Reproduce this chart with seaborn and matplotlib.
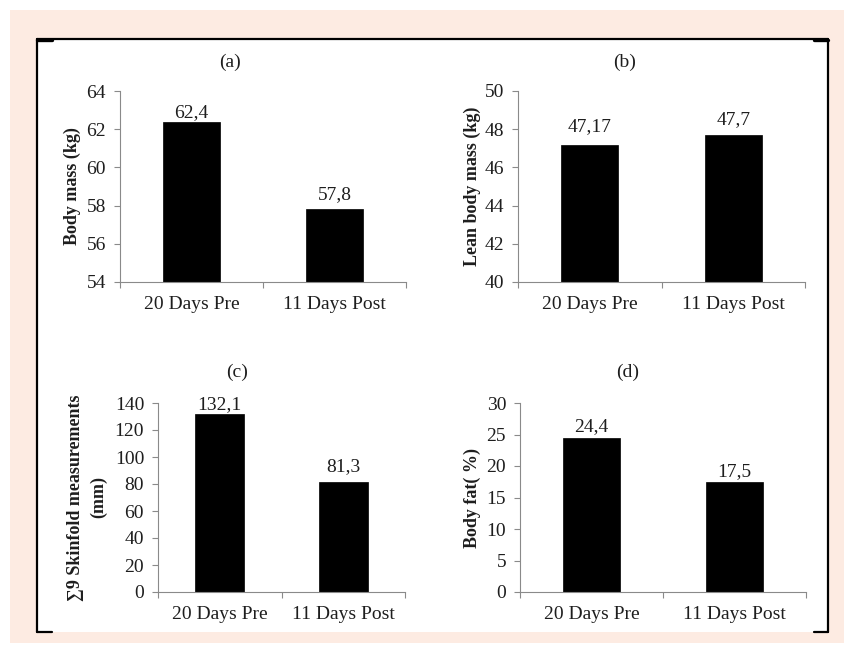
import matplotlib
matplotlib.use('Agg')
import matplotlib.pyplot as plt
from matplotlib.patches import Rectangle
from matplotlib.lines import Line2D
import seaborn as sns

# data
groups = ['20 Days Pre', '11 Days Post']
body_mass = [62.4, 57.8]
lean_mass = [47.17, 47.7]
skinfolds = [132.1, 81.3]
body_fat = [24.4, 17.5]

sns.set_style('white')
plt.rcParams['font.family'] = ['Liberation Serif', 'DejaVu Serif']

W, H = 844, 651
TXT = '#1e1e1e'
AX = '#8a8a8a'
PEACH = '#fdebe2'

fig = plt.figure(figsize=(W / 100, H / 100), dpi=100)
fig.patch.set_facecolor('white')


def px_rect(x0, y0, x1, y1):
    # pixel box (top-left origin) -> figure fraction rect
    return [x0 / W, 1 - y1 / H, (x1 - x0) / W, (y1 - y0) / H]


# background frame
fig.patches.append(Rectangle((10 / W, 1 - 643 / H), 1 - 10 / W, (643 - 10) / H,
                             transform=fig.transFigure, facecolor=PEACH,
                             edgecolor='none', zorder=-3))
fig.patches.append(Rectangle((37 / W, 1 - 632 / H), (828 - 37) / W, (632 - 39) / H,
                             transform=fig.transFigure, facecolor='white',
                             edgecolor='none', zorder=-2))


def fline(xs, ys, lw=1.6):
    fig.lines.append(Line2D([x / W for x in xs], [1 - y / H for y in ys],
                            transform=fig.transFigure, color='black', lw=lw))


fline([37, 828], [39, 39])
fline([37, 37], [39, 632])
fline([828, 828], [39, 632])
fline([37, 52], [632, 632])
fline([814, 828], [632, 632])
fline([37, 52], [40, 40], lw=2.4)
fline([814, 828], [40, 40], lw=2.4)

panels = [
    dict(box=(120, 91, 406, 282), vals=body_mass, ylim=(54, 64), step=2,
         title='(a)', tpos=(0.385, 1.152), ylabel='Body mass (kg)', lx=-0.168,
         gaps=[4, 10]),
    dict(box=(518, 91, 805, 282), vals=lean_mass, ylim=(40, 50), step=2,
         title='(b)', tpos=(0.373, 1.152), ylabel='Lean body mass (kg)', lx=-0.160,
         gaps=[14, 11]),
    dict(box=(158, 403, 405, 592), vals=skinfolds, ylim=(0, 140), step=20,
         title='(c)', tpos=(0.32, 1.164),
         ylabel='\u22119 Skinfold measurements\n(mm)', lx=-0.287, gaps=[5, 11]),
    dict(box=(520, 403, 806, 592), vals=body_fat, ylim=(0, 30), step=5,
         title='(d)', tpos=(0.378, 1.164), ylabel='Body fat( %)', lx=-0.168,
         gaps=[7, 6]),
]

for p in panels:
    ax = fig.add_axes(px_rect(*p['box']))
    ax.set_facecolor('none')
    sns.barplot(x=groups, y=p['vals'], color='black', width=0.4,
                edgecolor='black', linewidth=0.5, saturation=1, ax=ax)
    lo, hi = p['ylim']
    ax.set_ylim(lo, hi)
    ax.set_xlim(-0.5, 1.5)
    ax.set_yticks(range(lo, hi + 1, p['step']))
    ax.set_xticks([-0.5, 0.5, 1.5], minor=True)
    ax.tick_params(axis='x', which='major', length=0, pad=10, labelsize=14,
                   labelcolor=TXT)
    ax.tick_params(axis='x', which='minor', length=4, width=0.8, color=AX,
                   direction='out', bottom=True)
    ax.tick_params(axis='y', length=4, width=0.8, color=AX, direction='out',
                   left=True, pad=6, labelsize=14, labelcolor=TXT)
    for s in ['top', 'right']:
        ax.spines[s].set_visible(False)
    for s in ['left', 'bottom']:
        ax.spines[s].set_color(AX)
        ax.spines[s].set_linewidth(0.8)
    ax.set_xlabel('')
    ax.set_ylabel(p['ylabel'], fontsize=13, fontweight='bold', color=TXT,
                  va='center', ha='center', linespacing=1.4)
    ax.yaxis.set_label_coords(p['lx'], 0.5)
    ax.text(*p['tpos'], p['title'], transform=ax.transAxes, ha='center',
            va='center', fontsize=14, color=TXT)
    for i, v in enumerate(p['vals']):
        ax.annotate(f'{v:g}'.replace('.', ','), xy=(i, v),
                    xytext=(0, p['gaps'][i]), textcoords='offset pixels',
                    ha='center', va='baseline', fontsize=14, color=TXT)

fig.savefig('out.png', dpi=100, facecolor='white')
